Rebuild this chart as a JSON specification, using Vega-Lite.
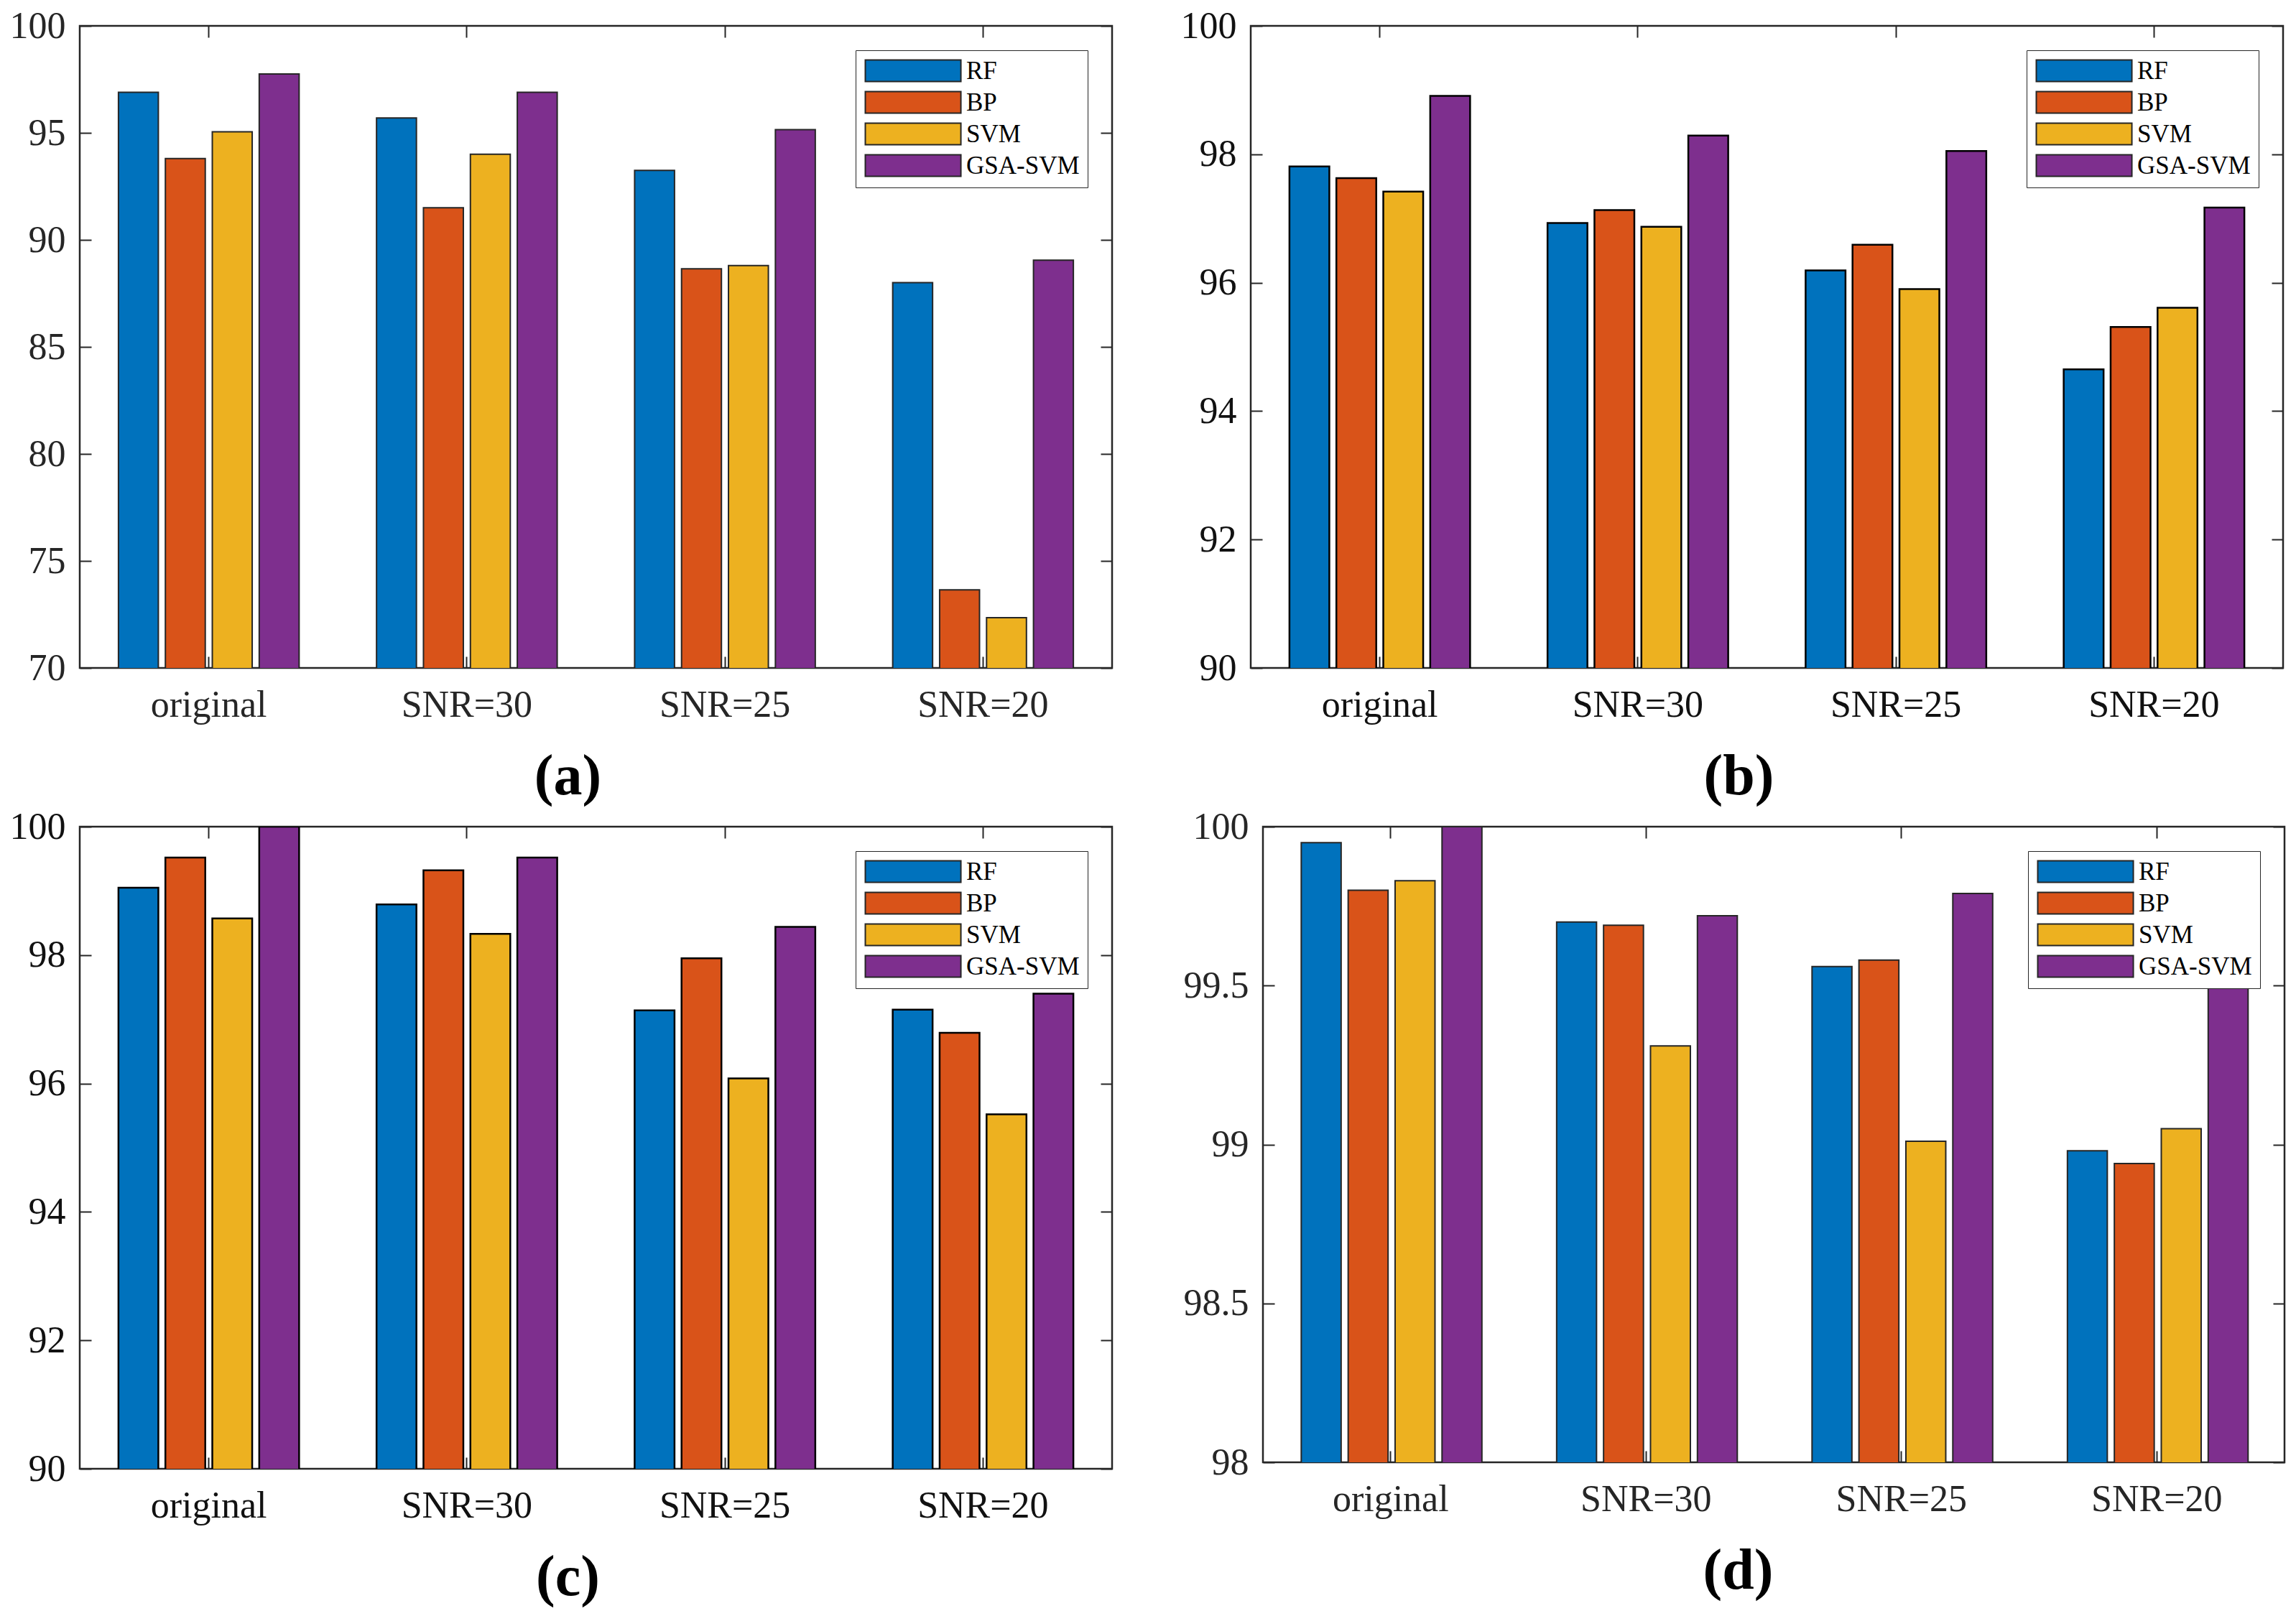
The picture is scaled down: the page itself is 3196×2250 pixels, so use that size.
{
  "$schema": "https://vega.github.io/schema/vega-lite/v6.json",
  "background": "white",
  "padding": {"left": 11, "top": 8, "right": 5, "bottom": 5},
  "config": {
    "view": {"stroke": "#262626", "strokeWidth": 2.5},
    "axis": {"grid": false, "labelFont": "Liberation Serif", "labelFontSize": 52, "labelColor": "#262626", "labelLimit": 0, "tickColor": "#262626", "tickWidth": 2, "titleFont": "Liberation Serif", "titleFontSize": 80, "titleFontWeight": "bold", "titleColor": "#000000"},
    "legend": {"orient": "top-right", "offset": 34, "title": null, "symbolType": "M-1,-1H7.87V1H-1Z", "symbolSize": 900, "symbolStrokeColor": "#262626", "symbolStrokeWidth": 2, "symbolOpacity": 1, "labelFont": "Liberation Serif", "labelFontSize": 35, "labelColor": "#000000", "labelOffset": 108, "strokeColor": "#262626", "fillColor": "white", "padding": 11, "rowPadding": 5}
  },
  "datasets": {
    "a": [
      {"cond": "original", "method": "RF", "acc": 96.9}, {"cond": "original", "method": "BP", "acc": 93.8}, {"cond": "original", "method": "SVM", "acc": 95.05}, {"cond": "original", "method": "GSA-SVM", "acc": 97.75},
      {"cond": "SNR=30", "method": "RF", "acc": 95.7}, {"cond": "SNR=30", "method": "BP", "acc": 91.5}, {"cond": "SNR=30", "method": "SVM", "acc": 94.0}, {"cond": "SNR=30", "method": "GSA-SVM", "acc": 96.9},
      {"cond": "SNR=25", "method": "RF", "acc": 93.25}, {"cond": "SNR=25", "method": "BP", "acc": 88.65}, {"cond": "SNR=25", "method": "SVM", "acc": 88.8}, {"cond": "SNR=25", "method": "GSA-SVM", "acc": 95.15},
      {"cond": "SNR=20", "method": "RF", "acc": 88.0}, {"cond": "SNR=20", "method": "BP", "acc": 73.65}, {"cond": "SNR=20", "method": "SVM", "acc": 72.35}, {"cond": "SNR=20", "method": "GSA-SVM", "acc": 89.05}
    ],
    "b": [
      {"cond": "original", "method": "RF", "acc": 97.81}, {"cond": "original", "method": "BP", "acc": 97.63}, {"cond": "original", "method": "SVM", "acc": 97.42}, {"cond": "original", "method": "GSA-SVM", "acc": 98.91},
      {"cond": "SNR=30", "method": "RF", "acc": 96.93}, {"cond": "SNR=30", "method": "BP", "acc": 97.13}, {"cond": "SNR=30", "method": "SVM", "acc": 96.87}, {"cond": "SNR=30", "method": "GSA-SVM", "acc": 98.29},
      {"cond": "SNR=25", "method": "RF", "acc": 96.19}, {"cond": "SNR=25", "method": "BP", "acc": 96.59}, {"cond": "SNR=25", "method": "SVM", "acc": 95.9}, {"cond": "SNR=25", "method": "GSA-SVM", "acc": 98.05},
      {"cond": "SNR=20", "method": "RF", "acc": 94.65}, {"cond": "SNR=20", "method": "BP", "acc": 95.31}, {"cond": "SNR=20", "method": "SVM", "acc": 95.61}, {"cond": "SNR=20", "method": "GSA-SVM", "acc": 97.17}
    ],
    "c": [
      {"cond": "original", "method": "RF", "acc": 99.05}, {"cond": "original", "method": "BP", "acc": 99.52}, {"cond": "original", "method": "SVM", "acc": 98.57}, {"cond": "original", "method": "GSA-SVM", "acc": 100},
      {"cond": "SNR=30", "method": "RF", "acc": 98.79}, {"cond": "SNR=30", "method": "BP", "acc": 99.32}, {"cond": "SNR=30", "method": "SVM", "acc": 98.33}, {"cond": "SNR=30", "method": "GSA-SVM", "acc": 99.52},
      {"cond": "SNR=25", "method": "RF", "acc": 97.14}, {"cond": "SNR=25", "method": "BP", "acc": 97.95}, {"cond": "SNR=25", "method": "SVM", "acc": 96.08}, {"cond": "SNR=25", "method": "GSA-SVM", "acc": 98.44},
      {"cond": "SNR=20", "method": "RF", "acc": 97.15}, {"cond": "SNR=20", "method": "BP", "acc": 96.79}, {"cond": "SNR=20", "method": "SVM", "acc": 95.52}, {"cond": "SNR=20", "method": "GSA-SVM", "acc": 97.4}
    ],
    "d": [
      {"cond": "original", "method": "RF", "acc": 99.95}, {"cond": "original", "method": "BP", "acc": 99.8}, {"cond": "original", "method": "SVM", "acc": 99.83}, {"cond": "original", "method": "GSA-SVM", "acc": 100},
      {"cond": "SNR=30", "method": "RF", "acc": 99.7}, {"cond": "SNR=30", "method": "BP", "acc": 99.69}, {"cond": "SNR=30", "method": "SVM", "acc": 99.31}, {"cond": "SNR=30", "method": "GSA-SVM", "acc": 99.72},
      {"cond": "SNR=25", "method": "RF", "acc": 99.56}, {"cond": "SNR=25", "method": "BP", "acc": 99.58}, {"cond": "SNR=25", "method": "SVM", "acc": 99.01}, {"cond": "SNR=25", "method": "GSA-SVM", "acc": 99.79},
      {"cond": "SNR=20", "method": "RF", "acc": 98.98}, {"cond": "SNR=20", "method": "BP", "acc": 98.94}, {"cond": "SNR=20", "method": "SVM", "acc": 99.05}, {"cond": "SNR=20", "method": "GSA-SVM", "acc": 99.7}
    ]
  },
  "spacing": 0,
  "resolve": {"scale": {"color": "independent"}, "legend": {"color": "independent"}},
  "vconcat": [
    {
      "spacing": 90,
      "resolve": {"scale": {"color": "independent", "y": "independent"}, "legend": {"color": "independent"}},
      "hconcat": [
        {
          "width": 1437, "height": 894,
          "data": {"name": "a"},
          "resolve": {"axis": {"x": "independent", "y": "independent"}},
          "layer": [
            {
              "mark": {"type": "bar", "stroke": "#262626", "strokeWidth": 2, "clip": true},
              "encoding": {
                "x": {"field": "cond", "type": "nominal", "sort": ["original", "SNR=30", "SNR=25", "SNR=20"], "scale": {"paddingInner": 0.3, "paddingOuter": 0.15}, "axis": {"orient": "bottom", "title": "(a)", "titleX": 679, "labelAngle": 0, "tickSize": -16, "labelPadding": 42, "titlePadding": 35, "domain": false}},
                "xOffset": {"field": "method", "type": "nominal", "sort": ["RF", "BP", "SVM", "GSA-SVM"], "scale": {"paddingInner": 0.15}},
                "y": {"field": "acc", "type": "quantitative", "scale": {"domain": [70, 100], "zero": false, "nice": false}, "axis": {"values": [70, 75, 80, 85, 90, 95, 100], "title": null, "tickSize": -16, "labelPadding": 36, "domain": false}},
                "color": {"field": "method", "type": "nominal", "sort": ["RF", "BP", "SVM", "GSA-SVM"], "scale": {"domain": ["RF", "BP", "SVM", "GSA-SVM"], "range": ["#0072BD", "#D95319", "#EDB120", "#7E2F8E"]}}
              }
            },
            {
              "mark": {"type": "bar", "opacity": 0, "clip": true},
              "encoding": {
                "x": {"field": "cond", "type": "nominal", "sort": ["original", "SNR=30", "SNR=25", "SNR=20"], "axis": {"orient": "top", "labels": false, "title": null, "tickSize": -16, "domain": false}},
                "y": {"field": "acc", "type": "quantitative", "axis": {"orient": "right", "labels": false, "title": null, "values": [70, 75, 80, 85, 90, 95, 100], "tickSize": -16, "domain": false}}
              }
            }
          ]
        },
        {
          "width": 1437, "height": 894,
          "data": {"name": "b"},
          "resolve": {"axis": {"x": "independent", "y": "independent"}},
          "layer": [
            {
              "mark": {"type": "bar", "stroke": "#000000", "strokeWidth": 2.5, "clip": true},
              "encoding": {
                "x": {"field": "cond", "type": "nominal", "sort": ["original", "SNR=30", "SNR=25", "SNR=20"], "scale": {"paddingInner": 0.3, "paddingOuter": 0.15}, "axis": {"orient": "bottom", "title": "(b)", "titleX": 679, "labelAngle": 0, "tickSize": -16, "labelPadding": 42, "titlePadding": 35, "domain": false, "labelColor": "#111111"}},
                "xOffset": {"field": "method", "type": "nominal", "sort": ["RF", "BP", "SVM", "GSA-SVM"], "scale": {"paddingInner": 0.15}},
                "y": {"field": "acc", "type": "quantitative", "scale": {"domain": [90, 100], "zero": false, "nice": false}, "axis": {"values": [90, 92, 94, 96, 98, 100], "title": null, "tickSize": -16, "labelPadding": 36, "domain": false, "labelColor": "#111111"}},
                "color": {"field": "method", "type": "nominal", "sort": ["RF", "BP", "SVM", "GSA-SVM"], "scale": {"domain": ["RF", "BP", "SVM", "GSA-SVM"], "range": ["#0072BD", "#D95319", "#EDB120", "#7E2F8E"]}}
              }
            },
            {
              "mark": {"type": "bar", "opacity": 0, "clip": true},
              "encoding": {
                "x": {"field": "cond", "type": "nominal", "sort": ["original", "SNR=30", "SNR=25", "SNR=20"], "axis": {"orient": "top", "labels": false, "title": null, "tickSize": -16, "domain": false}},
                "y": {"field": "acc", "type": "quantitative", "axis": {"orient": "right", "labels": false, "title": null, "values": [90, 92, 94, 96, 98, 100], "tickSize": -16, "domain": false}}
              }
            }
          ]
        }
      ]
    },
    {
      "spacing": 94,
      "resolve": {"scale": {"color": "independent", "y": "independent"}, "legend": {"color": "independent"}},
      "hconcat": [
        {
          "width": 1437, "height": 894,
          "data": {"name": "c"},
          "resolve": {"axis": {"x": "independent", "y": "independent"}},
          "layer": [
            {
              "mark": {"type": "bar", "stroke": "#000000", "strokeWidth": 2.5, "clip": true},
              "encoding": {
                "x": {"field": "cond", "type": "nominal", "sort": ["original", "SNR=30", "SNR=25", "SNR=20"], "scale": {"paddingInner": 0.3, "paddingOuter": 0.15}, "axis": {"orient": "bottom", "title": "(c)", "titleX": 679, "labelAngle": 0, "tickSize": -16, "labelPadding": 42, "titlePadding": 35, "domain": false, "labelColor": "#111111"}},
                "xOffset": {"field": "method", "type": "nominal", "sort": ["RF", "BP", "SVM", "GSA-SVM"], "scale": {"paddingInner": 0.15}},
                "y": {"field": "acc", "type": "quantitative", "scale": {"domain": [90, 100], "zero": false, "nice": false}, "axis": {"values": [90, 92, 94, 96, 98, 100], "title": null, "tickSize": -16, "labelPadding": 36, "domain": false, "labelColor": "#111111"}},
                "color": {"field": "method", "type": "nominal", "sort": ["RF", "BP", "SVM", "GSA-SVM"], "scale": {"domain": ["RF", "BP", "SVM", "GSA-SVM"], "range": ["#0072BD", "#D95319", "#EDB120", "#7E2F8E"]}}
              }
            },
            {
              "mark": {"type": "bar", "opacity": 0, "clip": true},
              "encoding": {
                "x": {"field": "cond", "type": "nominal", "sort": ["original", "SNR=30", "SNR=25", "SNR=20"], "axis": {"orient": "top", "labels": false, "title": null, "tickSize": -16, "domain": false}},
                "y": {"field": "acc", "type": "quantitative", "axis": {"orient": "right", "labels": false, "title": null, "values": [90, 92, 94, 96, 98, 100], "tickSize": -16, "domain": false}}
              }
            }
          ]
        },
        {
          "width": 1422, "height": 885,
          "data": {"name": "d"},
          "resolve": {"axis": {"x": "independent", "y": "independent"}},
          "layer": [
            {
              "mark": {"type": "bar", "stroke": "#262626", "strokeWidth": 2, "clip": true},
              "encoding": {
                "x": {"field": "cond", "type": "nominal", "sort": ["original", "SNR=30", "SNR=25", "SNR=20"], "scale": {"paddingInner": 0.3, "paddingOuter": 0.15}, "axis": {"orient": "bottom", "title": "(d)", "titleX": 661, "labelAngle": 0, "tickSize": -16, "labelPadding": 42, "titlePadding": 35, "domain": false}},
                "xOffset": {"field": "method", "type": "nominal", "sort": ["RF", "BP", "SVM", "GSA-SVM"], "scale": {"paddingInner": 0.15}},
                "y": {"field": "acc", "type": "quantitative", "scale": {"domain": [98, 100], "zero": false, "nice": false}, "axis": {"values": [98, 98.5, 99, 99.5, 100], "format": "~g", "title": null, "tickSize": -16, "labelPadding": 36, "domain": false}},
                "color": {"field": "method", "type": "nominal", "sort": ["RF", "BP", "SVM", "GSA-SVM"], "scale": {"domain": ["RF", "BP", "SVM", "GSA-SVM"], "range": ["#0072BD", "#D95319", "#EDB120", "#7E2F8E"]}}
              }
            },
            {
              "mark": {"type": "bar", "opacity": 0, "clip": true},
              "encoding": {
                "x": {"field": "cond", "type": "nominal", "sort": ["original", "SNR=30", "SNR=25", "SNR=20"], "axis": {"orient": "top", "labels": false, "title": null, "tickSize": -16, "domain": false}},
                "y": {"field": "acc", "type": "quantitative", "axis": {"orient": "right", "labels": false, "title": null, "values": [98, 98.5, 99, 99.5, 100], "tickSize": -16, "domain": false}}
              }
            }
          ]
        }
      ]
    }
  ]
}
